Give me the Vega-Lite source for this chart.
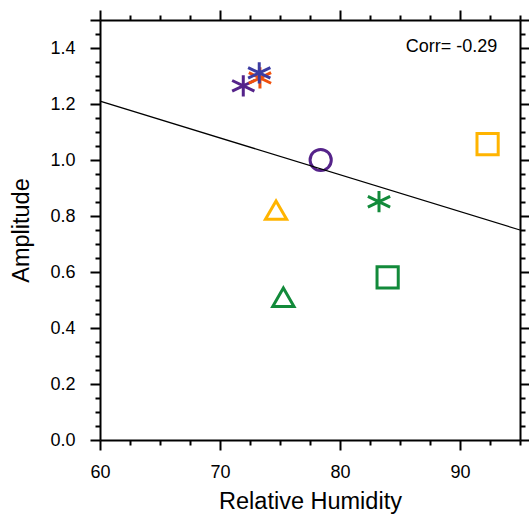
{
  "$schema": "https://vega.github.io/schema/vega-lite/v6.json",
  "width": 420,
  "height": 420,
  "autosize": {"type": "none"},
  "padding": {"left": 100, "top": 20, "right": 9, "bottom": 76},
  "background": "white",
  "config": {
    "view": {"stroke": null},
    "font": "Liberation Sans",
    "axis": {
      "domainColor": "black",
      "domainWidth": 2,
      "tickColor": "black",
      "tickWidth": 2,
      "labelColor": "black",
      "titleColor": "black",
      "labelFont": "Liberation Sans",
      "titleFont": "Liberation Sans",
      "labelFontSize": 18,
      "titleFontSize": 23.5,
      "titleFontWeight": "normal",
      "grid": false
    }
  },
  "datasets": {
    "points": [
      {"rh": 71.94, "amp": 1.265, "src": "P", "kind": "star"},
      {"rh": 73.33, "amp": 1.293, "src": "R", "kind": "star"},
      {"rh": 73.27, "amp": 1.311, "src": "B", "kind": "star"},
      {"rh": 78.39, "amp": 1.0, "src": "P", "kind": "circle"},
      {"rh": 92.3, "amp": 1.057, "src": "Y", "kind": "square"},
      {"rh": 74.67, "amp": 0.821, "src": "Y", "kind": "triangle"},
      {"rh": 83.25, "amp": 0.851, "src": "G", "kind": "star"},
      {"rh": 75.28, "amp": 0.51, "src": "G", "kind": "triangle"},
      {"rh": 83.97, "amp": 0.581, "src": "G", "kind": "square"}
    ],
    "fit": [
      {"rh": 60, "amp": 1.21},
      {"rh": 95, "amp": 0.75}
    ],
    "label": [
      {"rh": 93.1, "amp": 1.405, "text": "Corr= -0.29"}
    ]
  },
  "layer": [
    {
      "data": {"name": "points"},
      "mark": {"type": "point", "filled": false, "strokeWidth": 3, "opacity": 1, "size": 450},
      "encoding": {
        "x": {
          "field": "rh", "type": "quantitative", "title": "Relative Humidity",
          "scale": {"domain": [60, 95], "nice": false, "zero": false},
          "axis": {
            "orient": "bottom",
            "values": [60, 62.5, 65, 67.5, 70, 72.5, 75, 77.5, 80, 82.5, 85, 87.5, 90, 92.5, 95],
            "labelExpr": "datum.value % 10 == 0 ? format(datum.value, 'd') : ''",
            "tickSize": {"condition": {"test": "datum.value % 10 == 0", "value": 10}, "value": 5},
            "labelPadding": 13,
            "titlePadding": 8,
            "labelFlush": false
          }
        },
        "y": {
          "field": "amp", "type": "quantitative", "title": "Amplitude",
          "scale": {"domain": [0, 1.5], "nice": false, "zero": false},
          "axis": {
            "orient": "left",
            "values": [0, 0.05, 0.1, 0.15, 0.2, 0.25, 0.3, 0.35, 0.4, 0.45, 0.5, 0.55, 0.6, 0.65, 0.7, 0.75, 0.8, 0.85, 0.9, 0.95, 1.0, 1.05, 1.1, 1.15, 1.2, 1.25, 1.3, 1.35, 1.4, 1.45, 1.5],
            "labelExpr": "abs(datum.value * 5 - round(datum.value * 5)) < 0.001 ? format(datum.value, '.1f') : ''",
            "tickSize": {"condition": {"test": "abs(datum.value * 5 - round(datum.value * 5)) < 0.001 || datum.value > 1.49", "value": 10}, "value": 5},
            "labelPadding": 15,
            "titlePadding": 16,
            "labelFlush": false
          }
        },
        "shape": {
          "field": "kind", "type": "nominal", "legend": null,
          "scale": {
            "domain": ["star", "circle", "square", "triangle"],
            "range": ["M0,-1L0,1M-1.05,-0.5L1.05,0.5M-1.05,0.5L1.05,-0.5", "circle", "square", "triangle-up"]
          }
        },
        "color": {
          "field": "src", "type": "nominal", "legend": null,
          "scale": {
            "domain": ["P", "R", "B", "Y", "G"],
            "range": ["#55238a", "#f0500c", "#3c3ca2", "#ffb400", "#128a3a"]
          }
        }
      }
    },
    {
      "data": {"name": "fit"},
      "mark": {"type": "line", "color": "black", "strokeWidth": 1.3},
      "encoding": {
        "x": {
          "field": "rh", "type": "quantitative",
          "axis": {
            "orient": "top", "title": null, "labels": false,
            "values": [60, 62.5, 65, 67.5, 70, 72.5, 75, 77.5, 80, 82.5, 85, 87.5, 90, 92.5, 95],
            "tickSize": {"condition": {"test": "datum.value % 10 == 0", "value": 10}, "value": 5}
          }
        },
        "y": {
          "field": "amp", "type": "quantitative",
          "axis": {
            "orient": "right", "title": null, "labels": false,
            "values": [0, 0.05, 0.1, 0.15, 0.2, 0.25, 0.3, 0.35, 0.4, 0.45, 0.5, 0.55, 0.6, 0.65, 0.7, 0.75, 0.8, 0.85, 0.9, 0.95, 1.0, 1.05, 1.1, 1.15, 1.2, 1.25, 1.3, 1.35, 1.4, 1.45, 1.5],
            "tickSize": {"condition": {"test": "abs(datum.value * 5 - round(datum.value * 5)) < 0.001 || datum.value > 1.49", "value": 10}, "value": 5}
          }
        }
      }
    },
    {
      "data": {"name": "label"},
      "mark": {"type": "text", "align": "right", "baseline": "middle", "fontSize": 18, "font": "Liberation Sans", "color": "black"},
      "encoding": {
        "x": {"field": "rh", "type": "quantitative", "axis": null},
        "y": {"field": "amp", "type": "quantitative", "axis": null},
        "text": {"field": "text"}
      }
    }
  ],
  "resolve": {"axis": {"x": "independent", "y": "independent"}}
}
